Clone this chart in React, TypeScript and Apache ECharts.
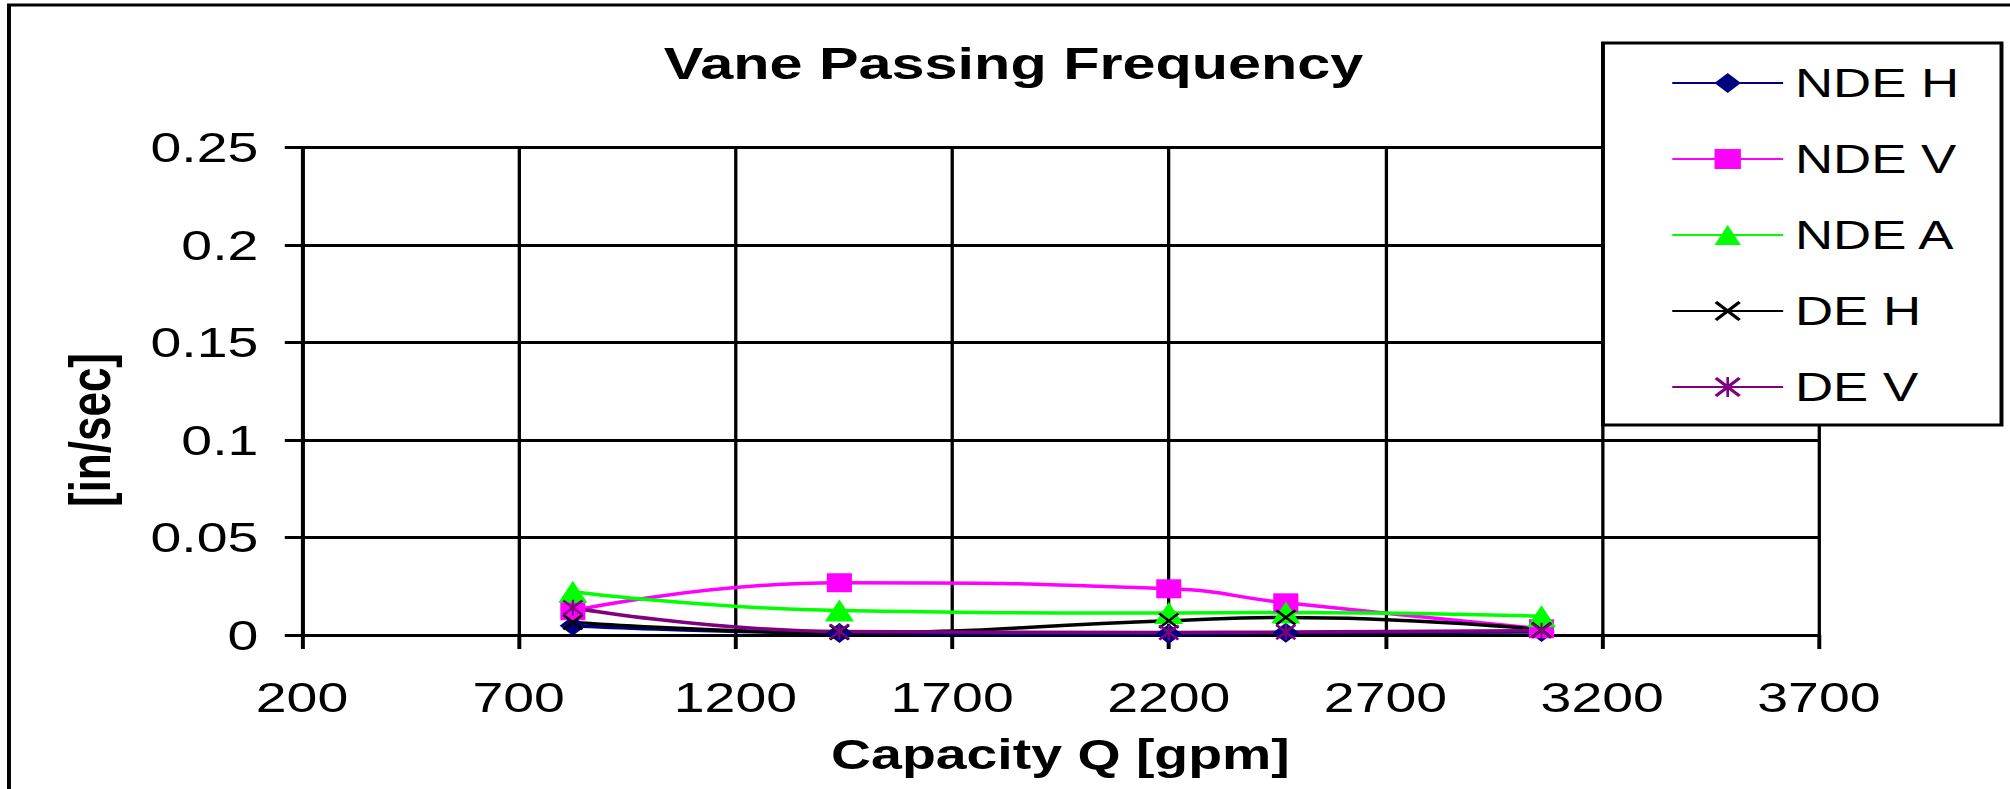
import React, { useEffect, useRef } from "react";
import * as echarts from "echarts";

// The reference picture is horizontally stretched; the chart is drawn at a
// narrower width and stretched back with a CSS transform.
const CHART_W = 1523;
const CHART_H = 789;
const STRETCH = 2010 / CHART_W;

const FONT = "'Liberation Sans', Arial, Helvetica, sans-serif";

// ---- data ----
const capacity = [825, 1440, 2200, 2470, 3060];
const ndeH = [0.0048, 0.001, 0.0005, 0.0012, 0.0015];
const ndeV = [0.0125, 0.0268, 0.0237, 0.0165, 0.0032];
const ndeA = [0.0222, 0.0126, 0.0113, 0.0115, 0.0096];
const deH = [0.0066, 0.0013, 0.0073, 0.009, 0.0027];
const deV = [0.014, 0.0018, 0.0013, 0.0015, 0.0022];

const seriesNames = ["NDE H", "NDE V", "NDE A", "DE H", "DE V"];
const xTicks = [200, 700, 1200, 1700, 2200, 2700, 3200, 3700];

const X_PATH =
  "path://M0,2L2,0L10,8L18,0L20,2L12,10L20,18L18,20L10,12L2,20L0,18L8,10Z";
const AST_PATH =
  "path://M0,2L2,0L10,8L18,0L20,2L12,10L20,18L18,20L10,12L2,20L0,18L8,10ZM9,0L11,0L11,20L9,20Z";

function mk(name: string, values: number[], color: string, symbol: string, size: number) {
  return {
    name,
    type: "line",
    data: capacity.map((x, i) => [x, values[i]]),
    smooth: 0.5,
    symbol,
    symbolSize: size,
    showSymbol: true,
    lineStyle: { color, width: 3.5 },
    itemStyle: { color },
    emphasis: { disabled: true },
  };
}

export default function App() {
  const ref = useRef<HTMLDivElement>(null);

  useEffect(() => {
    if (!ref.current) return;
    const chart = echarts.init(ref.current, undefined, { renderer: "svg" });
    const axisColor = "#000";
    chart.setOption({
      animation: false,
      backgroundColor: "#fff",
      textStyle: { fontFamily: FONT },
      title: {
        text: "Vane Passing Frequency",
        left: 503,
        top: 41,
        padding: 0,
        textStyle: { fontSize: 45, fontWeight: "bold", color: "#000", fontFamily: FONT },
      },
      grid: {
        left: 228.8,
        right: 144.8,
        top: 147.5,
        bottom: 154,
        containLabel: false,
        outerBoundsMode: "none",
      },
      legend: {
        orient: "vertical",
        left: 1214.6,
        top: 43,
        padding: [20, 32, 18, 51.5],
        itemWidth: 84,
        itemHeight: 25,
        itemGap: 36,
        backgroundColor: "#fff",
        borderColor: "#000",
        borderWidth: 3,
        borderRadius: 0,
        selectedMode: false,
        data: seriesNames,
        textStyle: {
          fontSize: 40,
          lineHeight: 40,
          color: "#000",
          fontFamily: FONT,
          padding: [0, 0, 0, 4],
        },
      },
      xAxis: {
        type: "value",
        min: 200,
        max: 3700,
        axisLine: { show: true, onZero: false, lineStyle: { color: axisColor, width: 3 } },
        axisTick: {
          show: true,
          length: 14,
          customValues: xTicks,
          lineStyle: { color: axisColor, width: 3 },
        },
        axisLabel: {
          customValues: xTicks,
          formatter: (v: number) => String(v),
          fontSize: 42,
          color: "#000",
          margin: 41,
          fontFamily: FONT,
        },
        splitLine: { show: true, lineStyle: { color: axisColor, width: 2.5 } },
        name: "Capacity Q [gpm]",
        nameLocation: "middle",
        nameGap: 98,
        nameTextStyle: { fontSize: 42, fontWeight: "bold", color: "#000", fontFamily: FONT },
      },
      yAxis: {
        type: "value",
        min: 0,
        max: 0.25,
        interval: 0.05,
        axisLine: { show: true, lineStyle: { color: axisColor, width: 3 } },
        axisTick: { show: true, length: 13, lineStyle: { color: axisColor, width: 3 } },
        axisLabel: { fontSize: 42, color: "#000", margin: 33, fontFamily: FONT },
        splitLine: { show: true, lineStyle: { color: axisColor, width: 3 } },
      },
      graphic: [
        {
          type: "rect",
          silent: true,
          shape: { x: 6.8, y: 5, width: 3000, height: 2000 },
          style: { fill: "none", stroke: "#000", lineWidth: 3 },
        },
        {
          type: "text",
          silent: true,
          x: 68,
          y: 430,
          rotation: Math.PI / 2,
          style: {
            text: "[in/sec]",
            fontSize: 44,
            fontWeight: "bold",
            fontFamily: FONT,
            fill: "#000",
            align: "center",
            verticalAlign: "middle",
          },
        },
      ],
      series: [
        mk(seriesNames[0], ndeH, "#000080", "diamond", 20),
        mk(seriesNames[1], ndeV, "#FF00FF", "rect", 19),
        mk(seriesNames[2], ndeA, "#00FF00", "triangle", 22),
        mk(seriesNames[3], deH, "#000000", X_PATH, 16),
        mk(seriesNames[4], deV, "#800080", AST_PATH, 16),
      ],
    });
    return () => chart.dispose();
  }, []);

  return (
    <div
      ref={ref}
      style={{
        position: "absolute",
        left: 0,
        top: 0,
        width: CHART_W,
        height: CHART_H,
        transform: `scaleX(${STRETCH})`,
        transformOrigin: "0 0",
      }}
    />
  );
}
